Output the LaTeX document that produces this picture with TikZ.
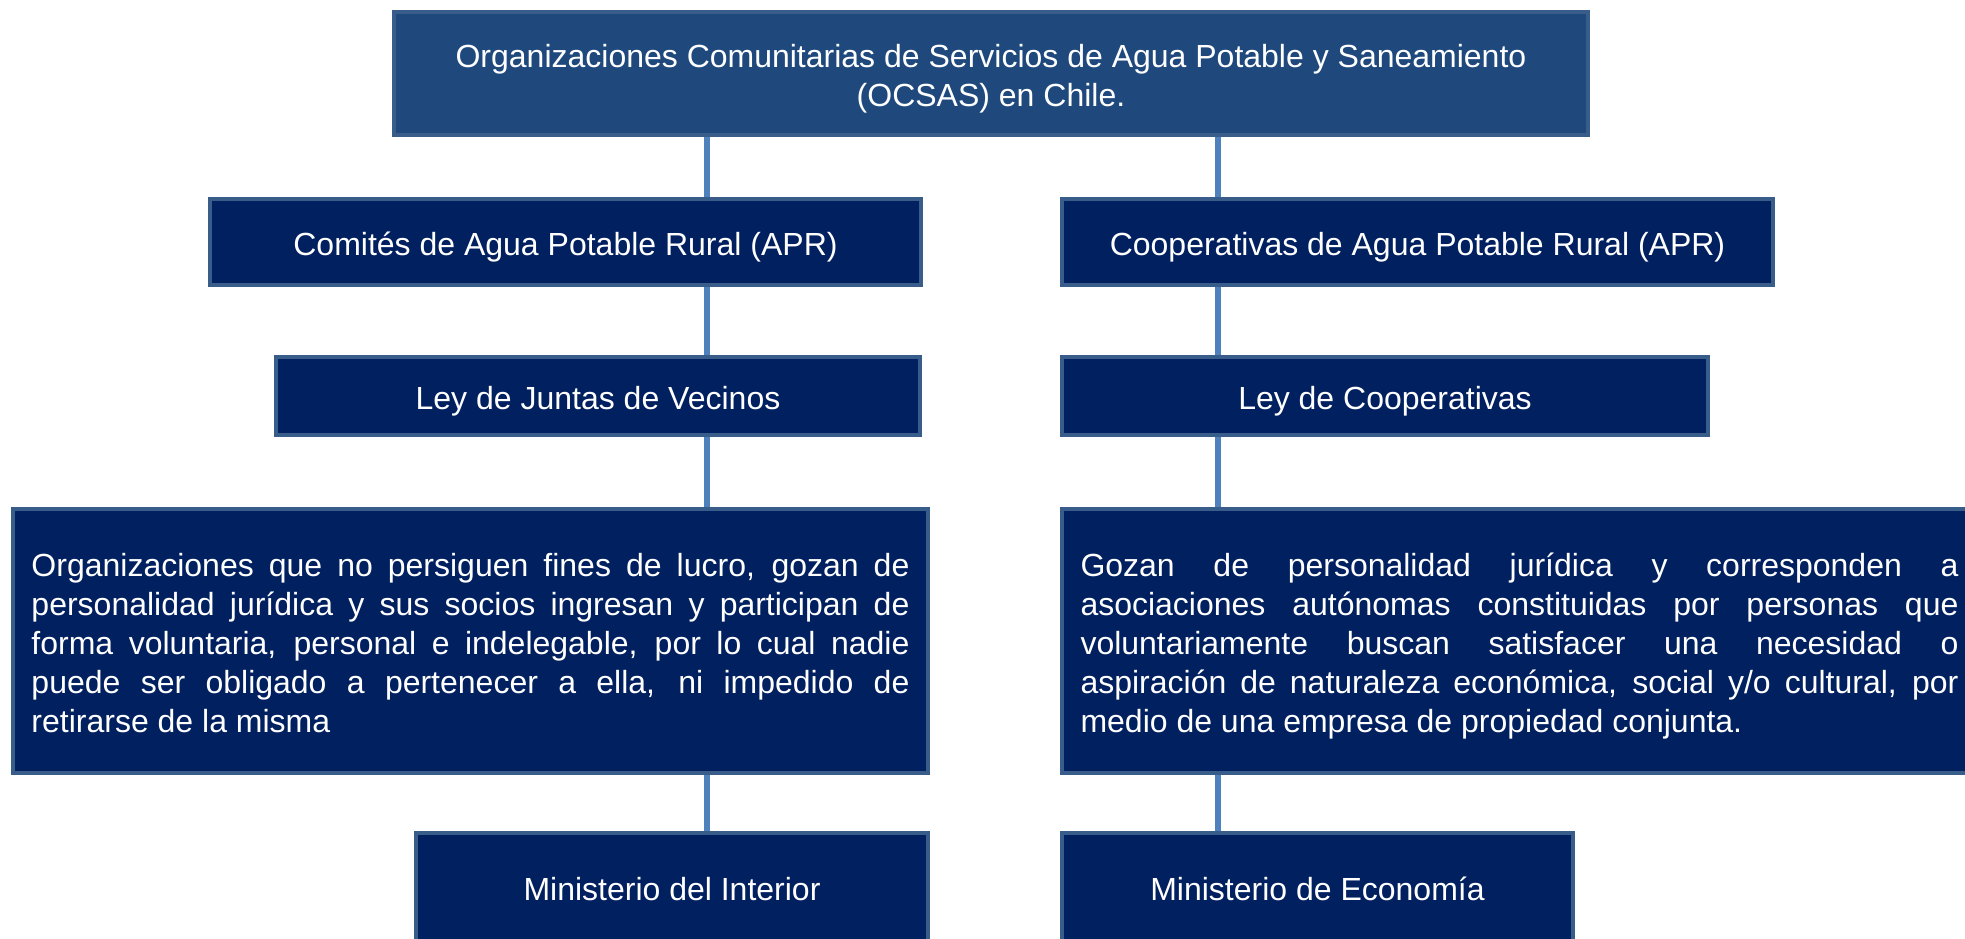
\documentclass[tikz,border=0pt]{standalone}
\usepackage{fontspec}
\setmainfont{Liberation Sans}
\definecolor{topfill}{HTML}{1F497D}
\definecolor{navy}{HTML}{002060}
\definecolor{edge}{HTML}{385D8A}
\definecolor{conn}{HTML}{4F81BD}
\begin{document}
\begin{tikzpicture}[x=0.5pt,y=-0.5pt,
  box/.style={draw=edge, line width=2pt, fill=navy, text=white, inner sep=0pt,
    font=\fontsize{16}{19.6}\selectfont, align=center},
  single/.style={box, text height=16pt, text depth=3pt},
  topbox/.style={box, fill=topfill, text height=36pt, text depth=3pt},
  para/.style={box, text width=439pt, align=justify, text height=10pt, text depth=75pt},
  link/.style={draw=conn, line width=3pt}]
\useasboundingbox (0,0) rectangle (1965,938);
\clip (0,0) rectangle (1965,938);
\hyphenpenalty=10000
% columns of the connectors
\coordinate (lx) at (707,0);
\coordinate (rx) at (1218,0);
% boxes
\node[topbox, minimum width=597pt, minimum height=61.5pt] (top) at (991,73.5)
  {Organizaciones Comunitarias de Servicios de Agua Potable y Saneamiento\\(OCSAS) en Chile.};
\node[single, minimum width=355.5pt, minimum height=43pt] (com) at (565.5,242)
  {Comités de Agua Potable Rural (APR)};
\node[single, minimum width=355.5pt, minimum height=43pt] (coop) at (1417.5,242)
  {Cooperativas de Agua Potable Rural (APR)};
\node[single, minimum width=322pt, minimum height=39pt] (leyjv) at (598,396)
  {Ley de Juntas de Vecinos};
\node[single, minimum width=323pt, minimum height=39pt] (leycoop) at (1385,396)
  {Ley de Cooperativas};
\node[para, minimum width=457.5pt, minimum height=132pt] (bigl) at (470.5,641)
  {Organizaciones que no persiguen fines de lucro, gozan de\linebreak
   personalidad jurídica y sus socios ingresan y participan de\linebreak
   forma voluntaria, personal e indelegable, por lo cual nadie\linebreak
   puede ser obligado a pertenecer a ella, ni impedido de\linebreak
   retirarse de la misma};
\node[para, minimum width=457.5pt, minimum height=132pt] (bigr) at (1519.5,641)
  {Gozan de personalidad jurídica y corresponden a\linebreak
   asociaciones autónomas constituidas por personas que\linebreak
   voluntariamente buscan satisfacer una necesidad o\linebreak
   aspiración de naturaleza económica, social y/o cultural, por\linebreak
   medio de una empresa de propiedad conjunta.};
\node[single, minimum width=256pt, minimum height=54pt] (mini) at (672,887)
  {Ministerio del Interior};
\node[single, minimum width=255.5pt, minimum height=54pt] (mine) at (1317.5,887)
  {Ministerio de Economía};
% connectors
\path[link] (top.south -| lx) -- (com.north -| lx);
\path[link] (com.south -| lx) -- (leyjv.north -| lx);
\path[link] (leyjv.south -| lx) -- (bigl.north -| lx);
\path[link] (bigl.south -| lx) -- (mini.north -| lx);
\path[link] (top.south -| rx) -- (coop.north -| rx);
\path[link] (coop.south -| rx) -- (leycoop.north -| rx);
\path[link] (leycoop.south -| rx) -- (bigr.north -| rx);
\path[link] (bigr.south -| rx) -- (mine.north -| rx);
\end{tikzpicture}
\end{document}
